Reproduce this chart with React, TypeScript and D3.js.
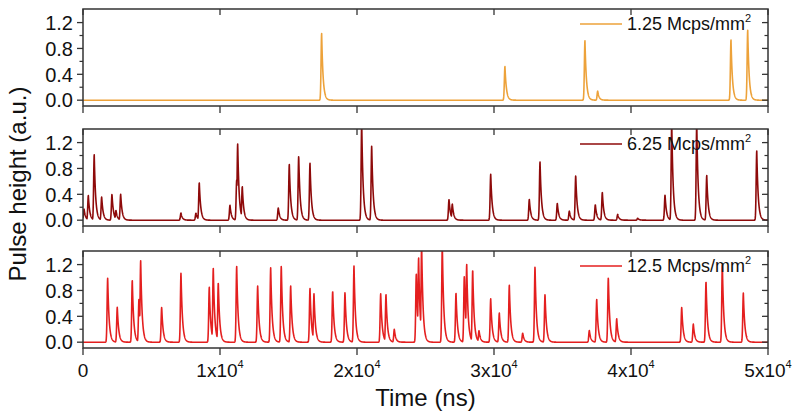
import React from "react";
import * as d3 from "d3";

// ---- data (pulse peak times in ns, peak heights in a.u.) ----
const SERIES_LABELS = ["1.25 Mcps/mm", "6.25 Mcps/mm", "12.5 Mcps/mm"];
const SERIES_COLORS = ["#EDA23A", "#8E0A0A", "#E41F1F"];

const P1_TIMES = [17420, 30800, 36640, 37570, 47300, 48520];
const P1_HEIGHTS = [1.03, 0.52, 0.92, 0.14, 0.93, 1.08];

const P2_TIMES = [80, 390, 820, 1365, 2117, 2409, 2752, 7153, 8248, 8489, 10730, 11220, 11293, 11629, 14257, 15060, 15746, 16571, 20345, 21075, 26718, 26959, 29762, 32580, 33361, 34624, 35500, 35967, 37398, 37909, 39033, 40493, 42486, 42975, 44800, 45530, 49180];
const P2_HEIGHTS = [0.17, 0.38, 1.01, 0.36, 0.4, 0.15, 0.4, 0.11, 0.11, 0.58, 0.23, 0.62, 1.18, 0.52, 0.19, 0.86, 0.99, 0.88, 1.5, 1.15, 0.32, 0.25, 0.71, 0.32, 0.9, 0.26, 0.14, 0.69, 0.24, 0.43, 0.09, 0.03, 0.39, 1.5, 1.5, 0.69, 1.07];

const P3_TIMES = [1803, 2504, 3599, 4088, 4212, 5745, 7154, 9220, 9512, 9877, 11220, 12753, 13702, 14476, 15162, 16571, 16863, 18228, 19126, 19783, 21732, 22119, 22725, 24330, 24500, 24720, 26229, 27229, 27835, 28010, 28448, 28908, 29762, 30390, 31120, 32098, 32996, 33726, 36960, 37500, 38347, 38960, 43705, 44552, 45478, 46669, 48202];
const P3_HEIGHTS = [0.99, 0.54, 0.96, 0.67, 1.26, 0.54, 1.07, 0.85, 1.14, 0.92, 1.17, 0.87, 1.15, 1.18, 0.87, 0.83, 0.75, 0.79, 0.77, 1.18, 0.75, 0.74, 0.2, 1.05, 1.3, 1.5, 1.5, 0.76, 1.02, 1.2, 1.12, 0.18, 0.67, 0.45, 0.88, 0.14, 1.17, 0.74, 0.18, 0.66, 1.0, 0.36, 0.54, 0.28, 0.94, 1.2, 0.76];

const X_TICKS = [0, 10000, 20000, 30000, 40000, 50000];
const X_TICK_MANT = ["0", "1x10", "2x10", "3x10", "4x10", "5x10"];
const Y_MAJOR = [0, 0.4, 0.8, 1.2];
const Y_MAJOR_LABELS = ["0.0", "0.4", "0.8", "1.2"];
const Y_MINOR = [0.2, 0.6, 1.0];

const PANELS = [
  { times: P1_TIMES, heights: P1_HEIGHTS },
  { times: P2_TIMES, heights: P2_HEIGHTS },
  { times: P3_TIMES, heights: P3_HEIGHTS },
];

// ---- layout ----
const W = 800, H = 420;
const LEFT = 83, RIGHT = 768;
const PANEL_TOPS = [9, 129, 251];
const PANEL_H = 97;
const FONT = "'Liberation Sans', Arial, Helvetica, sans-serif";
const AXIS_COLOR = "#333";

function pulseShape(dt: number) {
  if (dt < 0) return Math.exp(-(dt / 60) * (dt / 60));
  return Math.exp(-dt / 105);
}

function buildTrace(times: number[], heights: number[]) {
  const pts: [number, number][] = [];
  for (let t = 0; t <= 50000; t += 10) {
    let v = 0;
    for (let i = 0; i < times.length; i++) {
      const dt = t - times[i];
      if (dt < -350 || dt > 800) continue;
      const s = heights[i] * pulseShape(dt);
      if (s > v) v = s;
    }
    pts.push([t, v]);
  }
  return pts;
}

export default function App() {
  const x = d3.scaleLinear().domain([0, 50000]).range([LEFT, RIGHT]);

  return (
    <svg width={W} height={H} style={{ position: "absolute", left: 0, top: 0, background: "#fff" }} fontFamily={FONT}>
      <defs>
        {PANEL_TOPS.map((top, i) => (
          <clipPath id={`clip${i}`} key={i}>
            <rect x={LEFT} y={top} width={RIGHT - LEFT} height={PANEL_H} />
          </clipPath>
        ))}
      </defs>
      {PANELS.map((p, i) => {
        const top = PANEL_TOPS[i];
        const bottom = top + PANEL_H;
        const y = d3.scaleLinear().domain([-0.09, 1.41]).range([bottom, top]);
        const line = d3.line<[number, number]>().x((d) => x(d[0])).y((d) => y(d[1]));
        const pathD = line(buildTrace(p.times, p.heights)) || "";
        const legY = top + 15;
        return (
          <g key={i}>
            <path d={pathD} fill="none" stroke={SERIES_COLORS[i]} strokeWidth={1.6} strokeLinejoin="round" clipPath={`url(#clip${i})`} />
            <rect x={LEFT} y={top} width={RIGHT - LEFT} height={PANEL_H} fill="none" stroke={AXIS_COLOR} strokeWidth={1.5} />
            {Y_MAJOR.map((v, k) => (
              <g key={"M" + k}>
                <line x1={LEFT - 6} x2={LEFT} y1={y(v)} y2={y(v)} stroke={AXIS_COLOR} strokeWidth={1.3} />
                <line x1={RIGHT - 6} x2={RIGHT} y1={y(v)} y2={y(v)} stroke={AXIS_COLOR} strokeWidth={1.3} />
                <text x={LEFT - 10} y={y(v)} dy="0.36em" textAnchor="end" fontSize={20} fill="#111">{Y_MAJOR_LABELS[k]}</text>
              </g>
            ))}
            {Y_MINOR.map((v, k) => (
              <g key={"m" + k}>
                <line x1={LEFT - 3.5} x2={LEFT} y1={y(v)} y2={y(v)} stroke={AXIS_COLOR} strokeWidth={1.2} />
                <line x1={RIGHT - 3.5} x2={RIGHT} y1={y(v)} y2={y(v)} stroke={AXIS_COLOR} strokeWidth={1.2} />
              </g>
            ))}
            {X_TICKS.map((t, k) => (
              <g key={"x" + k}>
                <line x1={x(t)} x2={x(t)} y1={top} y2={top + 6} stroke={AXIS_COLOR} strokeWidth={1.3} />
                <line x1={x(t)} x2={x(t)} y1={bottom} y2={bottom + 7} stroke={AXIS_COLOR} strokeWidth={1.3} />
              </g>
            ))}
            <line x1={580} x2={622} y1={legY} y2={legY} stroke={SERIES_COLORS[i]} strokeWidth={1.5} />
            <text x={627} y={legY} dy="0.36em" fontSize={18} fill="#111">
              {SERIES_LABELS[i]}
              <tspan fontSize={11} dy={-8}>2</tspan>
            </text>
          </g>
        );
      })}
      {X_TICKS.map((t, k) => (
        <text key={"xl" + k} x={x(t)} y={377} textAnchor="middle" fontSize={19} fill="#111">
          {X_TICK_MANT[k]}
          {k > 0 ? <tspan fontSize={11} dy={-9}>4</tspan> : null}
        </text>
      ))}
      <text x={(LEFT + RIGHT) / 2} y={406} textAnchor="middle" fontSize={24} fill="#111">Time (ns)</text>
      <text transform={`translate(26,184) rotate(-90)`} textAnchor="middle" fontSize={24} fill="#111">Pulse height (a.u.)</text>
    </svg>
  );
}
